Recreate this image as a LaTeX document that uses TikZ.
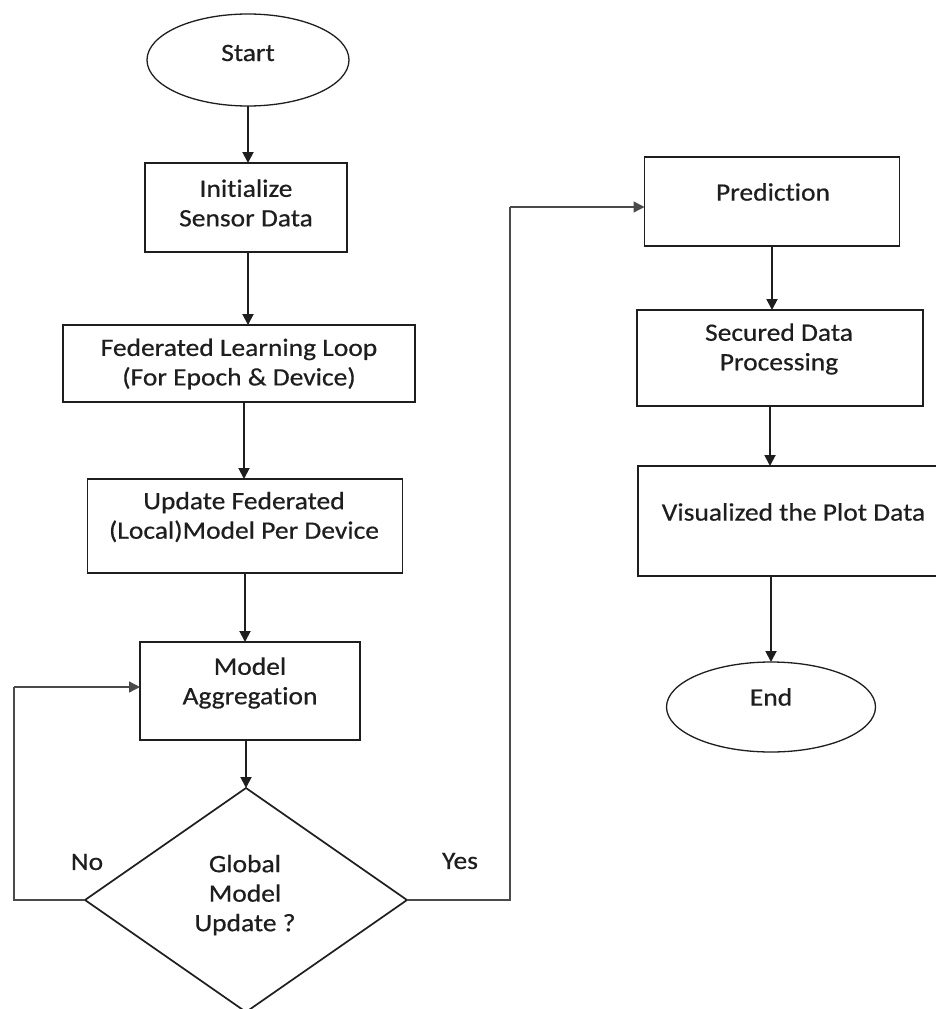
\documentclass[tikz,border=0pt]{standalone}
\usepackage{fontspec}
\setmainfont{Carlito}[FakeStretch=1.1,Ligatures=NoCommon,FakeBold=0.5]
\usetikzlibrary{shapes.geometric,arrows.meta}
\definecolor{ink}{HTML}{1E1E1E}
\definecolor{thin}{HTML}{4A4A4A}
\tikzset{
  boxshape/.style={draw=ink, line width=1.7pt, rectangle, inner sep=0pt, outer sep=0pt},
  ovalshape/.style={draw=ink, line width=1.3pt, ellipse, inner sep=0pt, outer sep=0pt},
  decshape/.style={draw=ink, line width=1.7pt, diamond, inner sep=0pt, outer sep=0pt},
  txt/.style={font=\fontsize{25}{29.5}\selectfont, text=ink, align=center, inner sep=0pt},
  arr/.style={draw=ink, line width=1.9pt, -{Triangle[length=11pt,width=11pt]}},
  looparr/.style={draw=thin, line width=1.3pt, -{Triangle[length=11pt,width=11pt]}},
  loopline/.style={draw=thin, line width=1.3pt}
}
\begin{document}
\begin{tikzpicture}[x=1pt,y=-1pt]
\useasboundingbox (0,0) rectangle (936,1009);
\fill[white] (0,0) rectangle (936,1009);
\clip (0,0) rectangle (936,1009);

% shapes
\node[ovalshape, minimum width=202pt, minimum height=92pt] (start) at (248,60) {};
\node[boxshape, minimum width=202pt, minimum height=89pt] (init) at (246,207.5) {};
\node[boxshape, minimum width=352pt, minimum height=77pt] (fed) at (239,363.5) {};
\node[boxshape, minimum width=315pt, minimum height=94pt] (upd) at (245,526) {};
\node[boxshape, minimum width=220pt, minimum height=98pt] (agg) at (250,691) {};
\node[decshape, minimum width=322pt, minimum height=224pt] (dec) at (246,900) {};
\node[boxshape, minimum width=255pt, minimum height=89pt] (pred) at (772,201.5) {};
\node[boxshape, minimum width=286pt, minimum height=96pt] (sec) at (780,358) {};
\node[boxshape, minimum width=310pt, minimum height=110pt] (vis) at (793,521) {};
\node[ovalshape, minimum width=209pt, minimum height=90pt] (end) at (771,707) {};

% texts
\node[txt] (startT) at (248,53) {Start};
\node[txt] (initT) at (246,203) {Initialize\\Sensor Data};
\node[txt] (fedT) at (239,364) {Federated Learning Loop\\(For Epoch \& Device)};
\node[txt] (updT) at (244,517) {Update Federated\\(Local)Model Per Device};
\node[txt] (aggT) at (250,683) {Model\\Aggregation};
\node[txt] (decT) at (245,895) {Global\\Model\\Update ?};
\node[txt] (predT) at (773,192) {Prediction};
\node[txt] (secT) at (779,349) {Secured Data\\Processing};
\node[txt] (visT) at (793.5,512) {Visualized the Plot Data};
\node[txt] (endT) at (771,697) {End};
\node[txt] (noT) at (87,862) {No};
\node[txt] (yesT) at (460,861) {Yes};

% connectors
\draw[arr] (start.south) -- (start.south |- init.north);
\draw[arr] ([xshift=2pt]init.south) -- ([xshift=2pt]init.south |- fed.north);
\draw[arr] ([xshift=5pt]fed.south) -- ([xshift=5pt]fed.south |- upd.north);
\draw[arr] (upd.south) -- (upd.south |- agg.north);
\draw[arr] (dec.north |- agg.south) -- (dec.north);
\draw[arr] (pred.south) -- (pred.south |- sec.north);
\draw[arr] ([xshift=-10pt]sec.south) -- ([xshift=-10pt]sec.south |- vis.north);
\draw[arr] (end.north |- vis.south) -- (end.north);

\coordinate (noB) at (14,900);
\coordinate (noT2) at (14,687);
\draw[loopline] (dec.west) -- (noB) -- (noT2);
\draw[looparr] (noT2) -- (noT2 -| agg.west);

\coordinate (yesB) at (510,900);
\coordinate (yesT2) at (510,207);
\draw[loopline] (dec.east) -- (yesB) -- (yesT2);
\draw[looparr] (yesT2) -- (yesT2 -| pred.west);
\end{tikzpicture}
\end{document}
